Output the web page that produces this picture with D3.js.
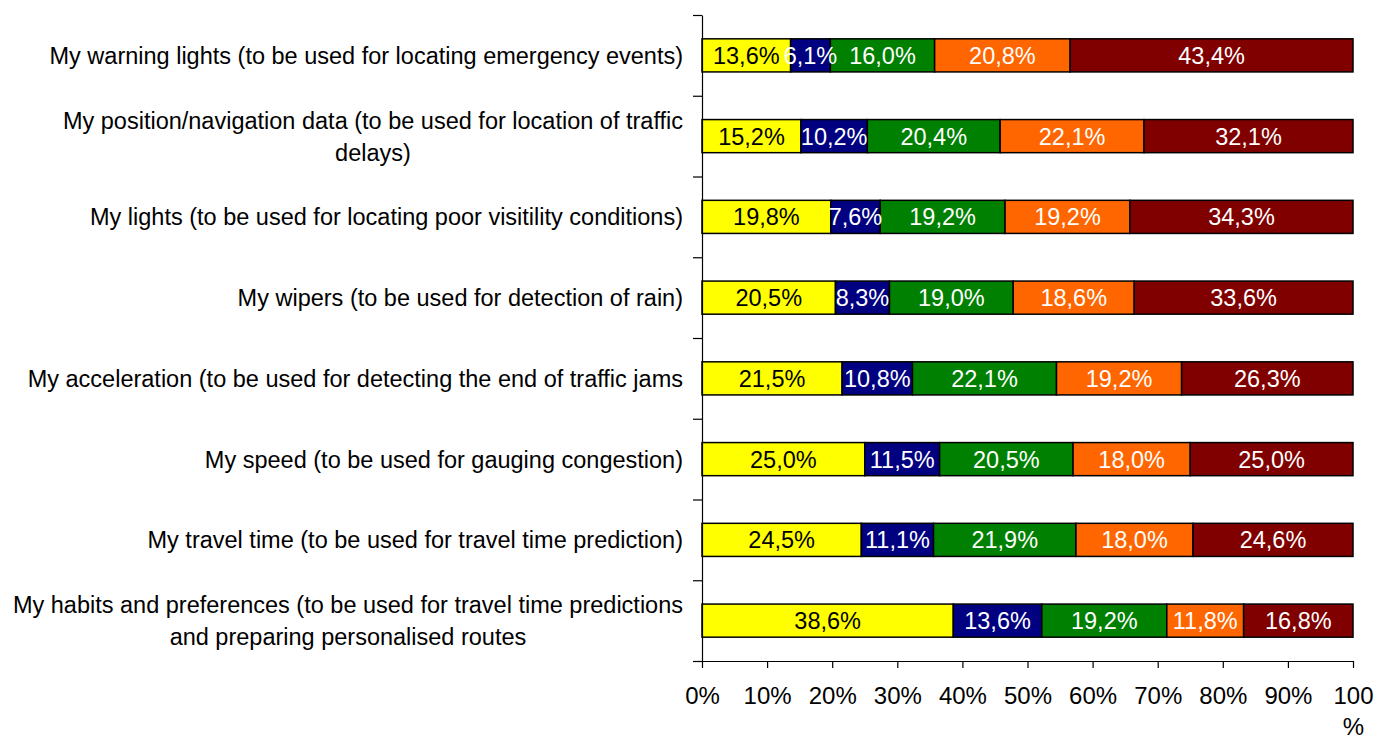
<!DOCTYPE html>
<html>
<head>
<meta charset="utf-8">
<script src="https://cdn.jsdelivr.net/npm/d3@7"></script>
<style>
  body { margin: 0; background: #fff; }
  text { font-family: "Liberation Sans", Arial, sans-serif; }
</style>
</head>
<body>
<script>

var categories = [
  ["My warning lights (to be used for locating emergency events)"],
  ["My position/navigation data (to be used for location of traffic", "delays)"],
  ["My lights (to be used for locating poor visitility conditions)"],
  ["My wipers (to be used for detection of rain)"],
  ["My acceleration (to be used for detecting the end of traffic jams"],
  ["My speed (to be used for gauging congestion)"],
  ["My travel time (to be used for travel time prediction)"],
  ["My habits and preferences (to be used for travel time predictions", "and preparing personalised routes"]
];

var seriesKeys = ["s1", "s2", "s3", "s4", "s5"];
var s1 = [13.6, 15.2, 19.8, 20.5, 21.5, 25.0, 24.5, 38.6];
var s2 = [6.1, 10.2, 7.6, 8.3, 10.8, 11.5, 11.1, 13.6];
var s3 = [16.0, 20.4, 19.2, 19.0, 22.1, 20.5, 21.9, 19.2];
var s4 = [20.8, 22.1, 19.2, 18.6, 19.2, 18.0, 18.0, 11.8];
var s5 = [43.4, 32.1, 34.3, 33.6, 26.3, 25.0, 24.6, 16.8];

var xTicks = [0, 0.1, 0.2, 0.3, 0.4, 0.5, 0.6, 0.7, 0.8, 0.9, 1];

var colors = ["#ffff00", "#000080", "#008000", "#ff6600", "#800000"];
var textColors = ["#000", "#fff", "#fff", "#fff", "#fff"];

var width = 1381, height = 736;
var plotLeft = 702, plotRight = 1353, plotTop = 15, plotBottom = 661;

var rows = categories.map(function(c, i) {
  return {idx: i, s1: s1[i], s2: s2[i], s3: s3[i], s4: s4[i], s5: s5[i]};
});

var stack = d3.stack().keys(seriesKeys).offset(d3.stackOffsetExpand);
var stacked = stack(rows);

var x = d3.scaleLinear().domain([0, 1]).range([plotLeft, plotRight]);
var y = d3.scaleBand().domain(d3.range(categories.length)).range([plotTop, plotBottom]).paddingInner(0.59).paddingOuter(0.295);
var yEdge = d3.scaleLinear().domain([0, categories.length]).range([plotTop, plotBottom]);

var svg = d3.select("body").append("svg")
    .attr("width", width)
    .attr("height", height);

var comma = function(v) { return v.toFixed(1).replace(".", ",") + "%"; };

var layers = svg.selectAll("g.layer")
    .data(stacked)
  .enter().append("g")
    .attr("class", "layer");

layers.each(function(layer, li) {
  var g = d3.select(this);
  g.selectAll("rect")
      .data(layer)
    .enter().append("rect")
      .attr("x", function(d) { return x(d[0]); })
      .attr("width", function(d) { return x(d[1]) - x(d[0]); })
      .attr("y", function(d) { return y(d.data.idx); })
      .attr("height", y.bandwidth())
      .attr("fill", colors[li])
      .attr("stroke", "#000")
      .attr("stroke-width", 1.5);
});

// value labels drawn after all rects so overflowing ones stay visible
layers.each(function(layer, li) {
  svg.append("g").selectAll("text")
      .data(layer)
    .enter().append("text")
      .attr("x", function(d) { return (x(d[0]) + x(d[1])) / 2; })
      .attr("y", function(d) { return y(d.data.idx) + y.bandwidth() / 2; })
      .attr("dy", "0.36em")
      .attr("text-anchor", "middle")
      .attr("font-size", "23.5px")
      .attr("fill", textColors[li])
      .text(function(d) { return comma(d.data[layer.key]); });
});

// left axis with ticks between categories
svg.append("g")
    .attr("transform", "translate(" + plotLeft + ",0)")
    .call(d3.axisLeft(yEdge).tickValues(d3.range(0, categories.length + 1)).tickSize(9).tickSizeOuter(0).tickFormat(""))
    .call(function(g) { g.selectAll("path, line").attr("stroke", "#000").attr("stroke-width", 1.2); });

// bottom axis
var xAxis = svg.append("g")
    .attr("transform", "translate(0," + plotBottom + ")")
    .call(d3.axisBottom(x).tickValues(xTicks).tickSize(7).tickSizeOuter(0).tickPadding(19)
      .tickFormat(function(d) { return Math.round(d * 100) + "%"; }));
xAxis.selectAll("path, line").attr("stroke", "#000").attr("stroke-width", 1.2);
xAxis.selectAll("text")
    .attr("font-size", "24px")
    .attr("font-family", "Liberation Sans, Arial, sans-serif")
    .attr("fill", "#000")
    .each(function(d) {
      if (d === 1) {
        var t = d3.select(this).text("");
        t.append("tspan").attr("x", 0).text("100");
        t.append("tspan").attr("x", 0).attr("dy", "1.3em").text("%");
      }
    });

// category labels, centered block right-aligned against the axis
var labelRight = 683;
categories.forEach(function(lines, i) {
  var cy = y(i) + y.bandwidth() / 2;
  var lh = 32;
  var t = svg.append("text")
      .attr("font-size", "23.5px")
      .attr("fill", "#000")
      .attr("text-anchor", "middle");
  var spans = lines.map(function(l, j) {
    return t.append("tspan")
        .attr("y", cy + (j - (lines.length - 1) / 2) * lh)
        .attr("dy", "0.36em")
        .text(l);
  });
  var maxW = d3.max(spans, function(s) { return s.node().getComputedTextLength(); });
  spans.forEach(function(s) { s.attr("x", labelRight - maxW / 2); });
});

</script>
</body>
</html>
